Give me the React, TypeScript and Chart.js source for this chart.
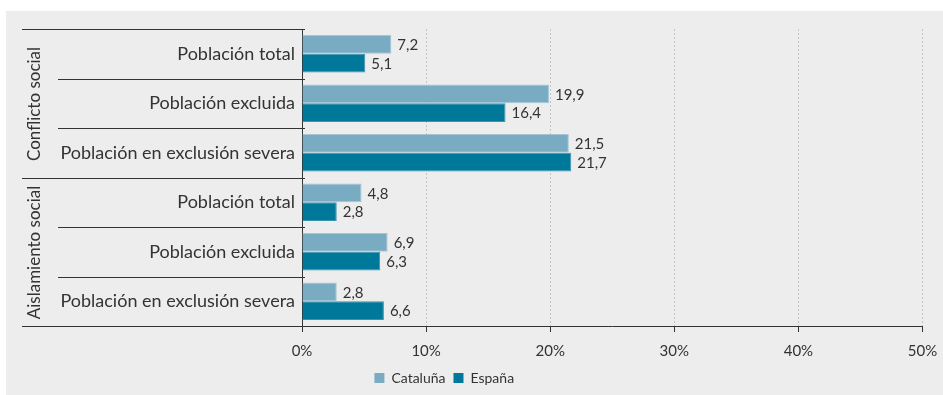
import React, { useEffect, useRef } from 'react';
import { Chart, registerables } from 'chart.js';

Chart.register(...registerables);

const categories = [
  'Población total',
  'Población excluida',
  'Población en exclusión severa',
  'Población total',
  'Población excluida',
  'Población en exclusión severa',
];
const groups = ['Conflicto social', 'Aislamiento social'];
const groupSizes = [3, 3];
const seriesNames = ['Cataluña', 'España'];
const cataluna = [7.2, 19.9, 21.5, 4.8, 6.9, 2.8];
const espana = [5.1, 16.4, 21.7, 2.8, 6.3, 6.6];
const xTicks = [0, 10, 20, 30, 40, 50];

const FONT = 'Lato';
const TEXT = '#333333';
const COLORS = ['#79abc3', '#00789a'];
const BORDERS = ['#a3c6d7', '#3b93ad'];

const bgPlugin = {
  id: 'bg',
  beforeDraw(chart: any) {
    const c = chart.ctx;
    c.save();
    c.fillStyle = '#ffffff';
    c.fillRect(0, 0, chart.width, chart.height);
    c.fillStyle = '#ededed';
    c.fillRect(6, 11, chart.width - 6, chart.height - 11);
    c.restore();
  },
};

const legendShift = {
  id: 'legendShift',
  afterLayout(chart: any) {
    const l = chart.legend;
    if (l) {
      l.left -= 17;
      l.right -= 17;
    }
  },
};

const groupPlugin = {
  id: 'groups',
  afterDraw(chart: any) {
    const c = chart.ctx;
    const y = chart.scales.y;
    const area = chart.chartArea;
    const n = categories.length;
    const boundaries: number[] = [];
    let acc = 0;
    const groupEdges = [0];
    groupSizes.forEach((s) => {
      acc += s;
      groupEdges.push(acc);
    });
    c.save();
    c.strokeStyle = TEXT;
    c.lineWidth = 1;
    for (let i = 0; i <= n; i++) {
      const py = Math.round(y.getPixelForValue(i - 0.5)) + 0.5;
      const isGroup = groupEdges.includes(i);
      c.beginPath();
      c.moveTo(isGroup ? 22 : 58, py);
      c.lineTo(area.left + 3, py);
      c.stroke();
      boundaries.push(py);
    }
    c.fillStyle = TEXT;
    c.font = `17px ${FONT}`;
    c.textAlign = 'center';
    c.textBaseline = 'middle';
    let start = 0;
    groups.forEach((g, gi) => {
      const top = boundaries[start];
      const bottom = boundaries[start + groupSizes[gi]];
      c.save();
      c.translate(35, (top + bottom) / 2);
      c.rotate(-Math.PI / 2);
      c.fillText(g, 0, 0);
      c.restore();
      start += groupSizes[gi];
    });
    c.restore();
  },
};

const labelPlugin = {
  id: 'valueLabels',
  afterDatasetsDraw(chart: any) {
    const c = chart.ctx;
    c.save();
    c.fillStyle = TEXT;
    c.font = `15px ${FONT}`;
    c.textAlign = 'left';
    c.textBaseline = 'middle';
    chart.data.datasets.forEach((ds: any, di: number) => {
      const meta = chart.getDatasetMeta(di);
      meta.data.forEach((el: any, i: number) => {
        const v = ds.data[i] as number;
        c.fillText(v.toFixed(1).replace('.', ','), el.x + 6, el.y + 1);
      });
    });
    c.restore();
  },
};

export default function App() {
  const ref = useRef<HTMLCanvasElement>(null);
  useEffect(() => {
    document.body.style.margin = '0';
    const chart = new Chart(ref.current as HTMLCanvasElement, {
      type: 'bar',
      data: {
        labels: categories,
        datasets: [
          {
            label: seriesNames[0],
            data: cataluna,
            backgroundColor: COLORS[0],
            borderColor: BORDERS[0],
            borderWidth: 1,
            categoryPercentage: 0.76,
            barPercentage: 1,
          },
          {
            label: seriesNames[1],
            data: espana,
            backgroundColor: COLORS[1],
            borderColor: BORDERS[1],
            borderWidth: 1,
            categoryPercentage: 0.76,
            barPercentage: 1,
          },
        ],
      },
      options: {
        indexAxis: 'y',
        responsive: false,
        animation: false,
        layout: { padding: { top: 29, right: 20.5, left: 0, bottom: 0 } },
        plugins: {
          tooltip: { enabled: false },
          legend: {
            position: 'bottom',
            labels: {
              boxWidth: 10,
              boxHeight: 10,
              padding: 8,
              color: TEXT,
              font: { family: FONT, size: 14 },
              generateLabels(chart: any) {
                return chart.data.datasets.map((ds: any, i: number) => ({
                  text: ds.label,
                  fillStyle: ds.backgroundColor,
                  strokeStyle: ds.backgroundColor,
                  lineWidth: 0,
                  fontColor: TEXT,
                  datasetIndex: i,
                  hidden: false,
                }));
              },
            },
          },
        },
        scales: {
          x: {
            type: 'linear',
            min: xTicks[0],
            max: xTicks[xTicks.length - 1],
            afterFit(scale: any) {
              scale.height = 37;
              scale.paddingRight = 0;
              scale.paddingLeft = 0;
            },
            afterBuildTicks(scale: any) {
              scale.ticks = xTicks.map((v) => ({ value: v }));
            },
            ticks: {
              padding: 10,
              color: TEXT,
              font: { family: FONT, size: 15 },
              callback: (v: any) => `${v}%`,
            },
            grid: {
              color: (ctx: any) => (ctx.tick && ctx.tick.value === 0 ? 'rgba(0,0,0,0)' : '#c4c4c4'),
              tickColor: TEXT,
              tickLength: 6,
              tickBorderDash: [],
            } as any,
            border: { display: true, color: TEXT, width: 1, dash: [2, 2] } as any,
          },
          y: {
            afterFit(scale: any) {
              scale.width = 302;
            },
            ticks: {
              padding: 7,
              color: TEXT,
              font: { family: FONT, size: 18 },
            },
            grid: { display: false, drawTicks: false },
            border: { display: true, color: TEXT, width: 1 },
          },
        },
      },
      plugins: [bgPlugin, legendShift, groupPlugin, labelPlugin],
    } as any);
    return () => chart.destroy();
  }, []);
  return (
    <div style={{ width: 943, height: 395 }}>
      <canvas ref={ref} width={943} height={395} />
    </div>
  );
}
